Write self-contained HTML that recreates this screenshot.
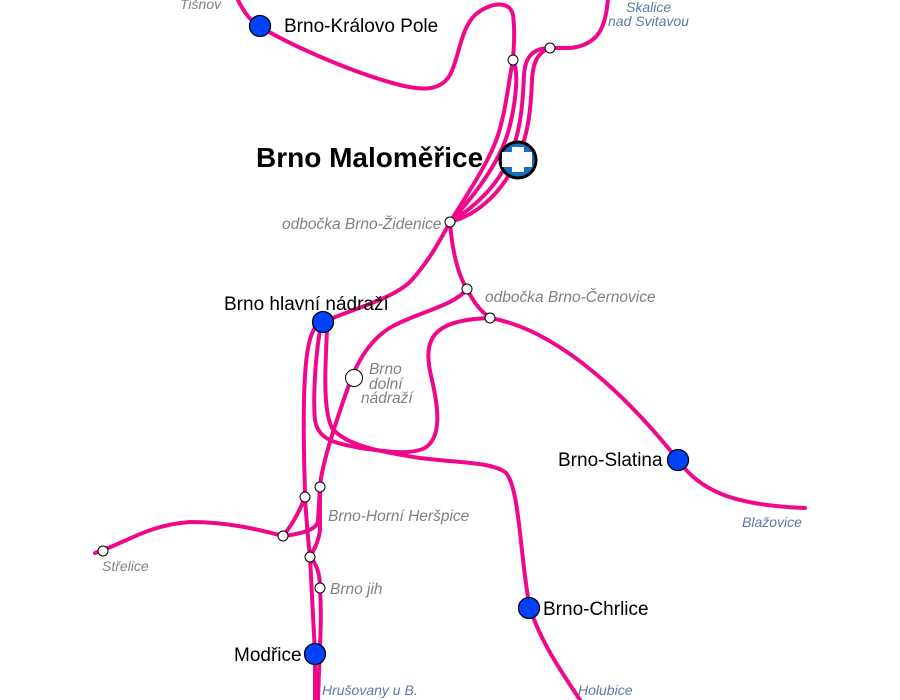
<!DOCTYPE html>
<html><head><meta charset="utf-8"><style>
body{margin:0;background:#fff;width:900px;height:700px;overflow:hidden}
svg{display:block}
text{font-family:"Liberation Sans",sans-serif}
.g{fill:#808080;font-style:italic;font-size:15.5px}
.b{fill:#5b7aa8;font-style:italic;font-size:14px}
.s{fill:#000;font-size:19px}
</style></head><body>
<svg width="900" height="700" viewBox="0 0 900 700">
<g fill="none" stroke="#f0088c" stroke-width="4" stroke-linecap="round">
<path d="M237,-2 C245,15 252,22 262,28 C300,50 360,75 400,85 C420,90 440,92 450,75 C460,55 460,30 475,15 C490,2 510,0 513,15 C515,30 514,45 513,60"/>
<path d="M608,-2 C606,25 600,45 570,48 L550,48"/>
<path d="M513,60 C508,85 506,110 498,135 C490,160 470,190 450,222"/>
<path d="M513,60 C519,72 516,100 510,125 C502,160 475,195 450,222"/>
<path d="M550,48 C532,48 525,58 524,75 C523,100 521,125 514,145 C504,180 478,205 450,222"/>
<path d="M550,48 C538,52 533,62 532,80 C531,105 529,130 520,152 C506,190 478,215 450,222"/>
<path d="M450,222 C440,240 430,260 410,282 C390,300 350,310 323,322"/>
<path d="M450,222 C452,250 458,275 467,289 C475,305 482,312 490,318"/>
<path d="M320,322 C308,330 305,360 304,400 C303,450 305,480 305,497 C307,530 310,557 310,557 L315,654 L315,700"/>
<path d="M320,330 C315,360 313,400 315,420 C318,440 335,443 360,448 C390,452 410,455 425,448 C440,438 440,415 432,380 C422,340 430,320 490,318"/>
<path d="M327,330 C325,370 323,410 332,428 C345,445 380,452 420,458 C460,463 490,462 505,472 C520,485 520,560 530,608 C540,640 560,670 580,700"/>
<path d="M467,289 C455,305 420,312 395,325 C375,335 360,355 350,382 C340,410 330,440 325,460 C320,480 320,487 320,487 L320,530 C318,545 312,552 310,557"/>
<path d="M95,553 L103,550 C130,540 150,525 190,522 C230,522 260,530 283,536 C292,525 300,510 305,497"/>
<path d="M283,536 C300,534 318,530 318,520 L320,487"/>
<path d="M310,557 C318,565 320,578 320,588 C322,620 320,640 318,700"/>
<path d="M490,318 C560,330 630,400 678,460 C700,490 730,505 805,508"/>
</g>
<g fill="#fff" stroke="#000" stroke-width="1">
<circle cx="513" cy="60" r="5"/><circle cx="550" cy="48" r="5"/>
<circle cx="450" cy="222" r="5"/><circle cx="467" cy="289" r="5"/><circle cx="490" cy="318" r="5"/>
<circle cx="354" cy="378" r="8.5"/>
<circle cx="305" cy="497" r="5"/><circle cx="320" cy="487" r="5"/>
<circle cx="283" cy="536" r="5"/><circle cx="310" cy="557" r="5"/>
<circle cx="320" cy="588" r="5"/><circle cx="103" cy="551" r="5"/>
</g>
<g fill="#0040ff" stroke="#000" stroke-width="1.3">
<circle cx="260" cy="26" r="10.5"/><circle cx="323" cy="322" r="10.5"/>
<circle cx="678" cy="460" r="10.5"/><circle cx="529" cy="608" r="10.5"/>
<circle cx="315" cy="654" r="10.5"/>
</g>
<circle cx="518" cy="160" r="18" fill="#1a6ec0" stroke="#000" stroke-width="3"/>
<path d="M502,152 L512,152 L512,147 L524,147 L524,152 L532,152 L532,167 L524,167 L524,172 L512,172 L512,167 L502,167 Z" fill="#fff"/>
<text x="284" y="32" class="s">Brno-Královo Pole</text>
<text x="256" y="167" style="font-size:28px;font-weight:bold">Brno Maloměřice</text>
<text x="224" y="310" class="s">Brno hlavní nádraží</text>
<text x="558" y="466" class="s">Brno-Slatina</text>
<text x="543" y="615" class="s">Brno-Chrlice</text>
<text x="234" y="661" class="s">Modřice</text>
<text x="282" y="229" class="g">odbočka Brno-Židenice</text>
<text x="485" y="302" class="g">odbočka Brno-Černovice</text>
<text x="369" y="374" class="g">Brno</text>
<text x="369" y="389" class="g">dolní</text>
<text x="361" y="403" class="g">nádraží</text>
<text x="328" y="521" class="g">Brno-Horní Heršpice</text>
<text x="330" y="594" class="g">Brno jih</text>
<text x="102" y="571" class="g" style="font-size:14px">Střelice</text>
<text x="180" y="9" class="g" style="font-size:14px">Tišnov</text>
<text x="626" y="12" class="b">Skalice</text>
<text x="608" y="26" class="b">nad Svitavou</text>
<text x="742" y="527" class="b">Blažovice</text>
<text x="322" y="695" class="b">Hrušovany u B.</text>
<text x="578" y="695" class="b">Holubice</text>
</svg>
</body></html>
